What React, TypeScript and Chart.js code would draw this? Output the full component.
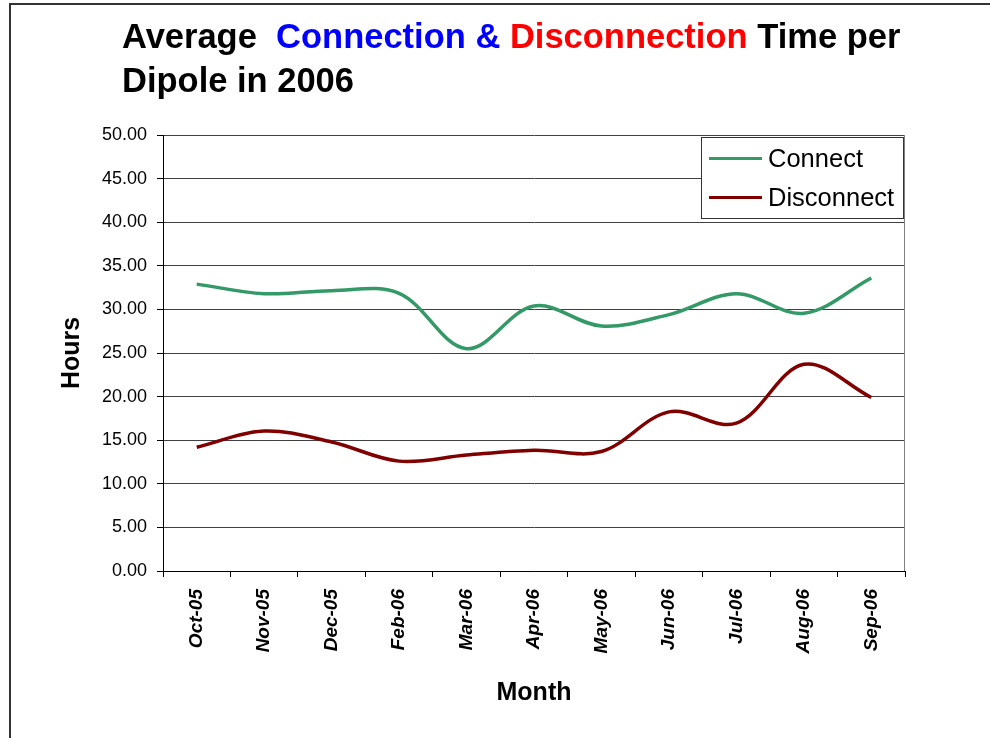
import React, { useEffect, useRef } from "react";
import { Chart, registerables } from "chart.js";

Chart.register(...registerables);

const FONT = "'Liberation Sans', Arial, Helvetica, sans-serif";

const months = ["Oct-05", "Nov-05", "Dec-05", "Feb-06", "Mar-06", "Apr-06", "May-06", "Jun-06", "Jul-06", "Aug-06", "Sep-06"];
const connectHours = [32.9, 31.8, 32.15, 31.85, 25.5, 30.4, 28.1, 29.4, 31.8, 29.55, 33.6];
const disconnectHours = [14.2, 16.05, 14.8, 12.6, 13.3, 13.85, 13.7, 18.25, 16.95, 23.7, 19.9];
const seriesNames = ["Connect", "Disconnect"];
const seriesColors = ["#339966", "#800000"];
const yMin = 0;
const yMax = 50;
const yStep = 5;

const plotFrame = {
  id: "plotFrame",
  beforeDatasetsDraw(chart: any) {
    const { ctx, chartArea } = chart;
    ctx.save();
    ctx.strokeStyle = "#808080";
    ctx.lineWidth = 1;
    ctx.beginPath();
    ctx.moveTo(Math.round(chartArea.right) - 0.5, chartArea.top);
    ctx.lineTo(Math.round(chartArea.right) - 0.5, chartArea.bottom);
    ctx.stroke();
    ctx.restore();
  },
};

const legendBox = {
  id: "legendBox",
  afterDraw(chart: any) {
    const { ctx, chartArea } = chart;
    const w = 202;
    const h = 81;
    const x = Math.round(chartArea.right) - 204;
    const y = Math.round(chartArea.top) + 2;
    ctx.save();
    ctx.fillStyle = "#ffffff";
    ctx.fillRect(x, y, w, h);
    ctx.strokeStyle = "#333333";
    ctx.lineWidth = 1;
    ctx.strokeRect(x + 0.5, y + 0.5, w, h);
    ctx.font = `25.5px ${FONT}`;
    ctx.textBaseline = "middle";
    ctx.textAlign = "left";
    chart.data.datasets.forEach((ds: any, i: number) => {
      const cy = y + 21.5 + i * 39;
      ctx.strokeStyle = ds.borderColor;
      ctx.lineWidth = 3;
      ctx.beginPath();
      ctx.moveTo(x + 8, cy);
      ctx.lineTo(x + 61, cy);
      ctx.stroke();
      ctx.fillStyle = "#000000";
      ctx.fillText(ds.label, x + 67, cy + 1);
    });
    ctx.restore();
  },
};

function LineChart() {
  const ref = useRef<HTMLCanvasElement | null>(null);
  useEffect(() => {
    if (!ref.current) return;
    const chart = new Chart(ref.current, {
      type: "line",
      data: {
        labels: months,
        datasets: [
          {
            label: seriesNames[0],
            data: connectHours,
            borderColor: seriesColors[0],
            backgroundColor: seriesColors[0],
            borderWidth: 3.5,
            pointRadius: 0,
            tension: 0.35,
            fill: false,
          },
          {
            label: seriesNames[1],
            data: disconnectHours,
            borderColor: seriesColors[1],
            backgroundColor: seriesColors[1],
            borderWidth: 3.5,
            pointRadius: 0,
            tension: 0.35,
            fill: false,
          },
        ],
      },
      options: {
        animation: false,
        responsive: false,
        devicePixelRatio: 1,
        layout: { padding: { left: 55, top: 135, right: 85, bottom: 0 } },
        plugins: {
          legend: { display: false },
          title: { display: false },
          tooltip: { enabled: false },
        },
        scales: {
          x: {
            type: "category",
            offset: true,
            afterFit: (s: any) => {
              s.height = 167;
            },
            grid: {
              offset: true,
              drawOnChartArea: false,
              drawTicks: true,
              tickLength: 6,
              color: "#000000",
            },
            border: { display: true, color: "#000000", width: 1 },
            ticks: {
              autoSkip: false,
              minRotation: 90,
              maxRotation: 90,
              padding: 12,
              color: "#000000",
              font: { family: FONT, size: 19, weight: "bold", style: "italic" },
            },
            title: {
              display: true,
              text: "Month",
              color: "#000000",
              font: { family: FONT, size: 25, weight: "bold" },
              padding: { top: 0, bottom: 30 },
            },
          },
          y: {
            min: yMin,
            max: yMax,
            afterFit: (s: any) => {
              s.width = 108;
            },
            grid: {
              color: "#404040",
              lineWidth: 1,
              drawTicks: true,
              tickLength: 6,
              tickColor: "#000000",
            },
            border: { display: true, color: "#000000", width: 1 },
            ticks: {
              stepSize: yStep,
              padding: 10,
              color: "#000000",
              font: { family: FONT, size: 18 },
              callback: (v: any) => Number(v).toFixed(2),
            },
            title: {
              display: true,
              text: "Hours",
              color: "#000000",
              font: { family: FONT, size: 25, weight: "bold" },
              padding: { top: 2, bottom: 0 },
            },
          },
        },
      },
      plugins: [plotFrame, legendBox],
    } as any);
    return () => chart.destroy();
  }, []);
  return <canvas ref={ref} width={990} height={738} style={{ display: "block" }} />;
}

export default function App() {
  return (
    <div
      style={{
        position: "absolute",
        left: 0,
        top: 0,
        width: 990,
        height: 738,
        background: "#ffffff",
        overflow: "hidden",
      }}
    >
      <div
        style={{
          position: "absolute",
          left: 9,
          top: 3,
          width: 981,
          height: 735,
          borderLeft: "2px solid #333333",
          borderTop: "2px solid #333333",
          boxSizing: "border-box",
        }}
      />
      <div style={{ position: "absolute", left: 0, top: 0 }}>
        <LineChart />
      </div>
      <div
        style={{
          position: "absolute",
          left: 122,
          top: 14,
          fontFamily: FONT,
          fontWeight: "bold",
          fontSize: 34.5,
          lineHeight: "44px",
          whiteSpace: "pre",
          color: "#000000",
        }}
      >
        <span>Average  </span>
        <span style={{ color: "#0000ff" }}>Connection &amp;</span>
        <span> </span>
        <span style={{ color: "#ff0000" }}>Disconnection</span>
        <span> Time per</span>
        <br />
        <span>Dipole in 2006</span>
      </div>
    </div>
  );
}
